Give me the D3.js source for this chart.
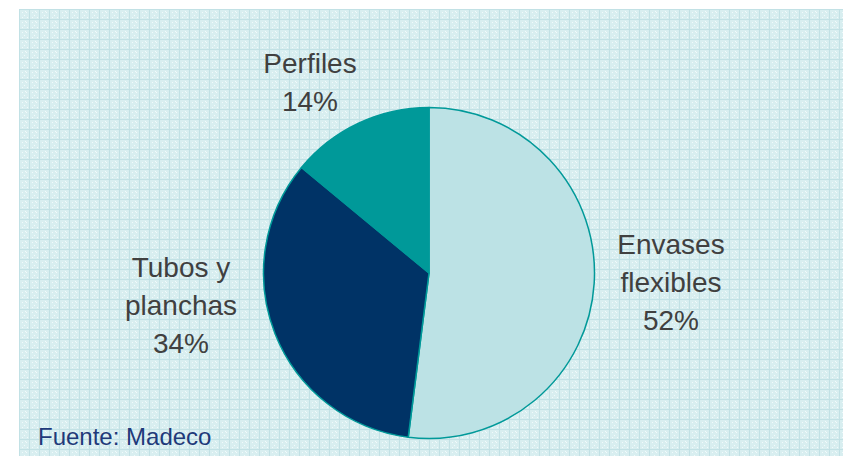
<!DOCTYPE html>
<html>
<head>
<meta charset="utf-8">
<script src="https://cdn.jsdelivr.net/npm/d3@7/dist/d3.min.js"></script>
<style>
  html, body { margin: 0; padding: 0; background: #ffffff; }
  svg { display: block; }
</style>
</head>
<body>
<svg id="chart" width="843" height="456"></svg>
<script>
// Market share by product line
const categories = ["Envases flexibles", "Tubos y planchas", "Perfiles"];
const shares = [52, 34, 14];
const labelLines = [["Envases", "flexibles", "52%"], ["Tubos y", "planchas", "34%"], ["Perfiles", "14%"]];
const colors = ["#bce2e5", "#003366", "#009999"];
const sourceNote = "Fuente: Madeco";

const svg = d3.select("#chart");
const W = 843, H = 456;

// Light grid-paper background
const defs = svg.append("defs");
const pat = defs.append("pattern")
  .attr("id", "gridpaper")
  .attr("patternUnits", "userSpaceOnUse")
  .attr("width", 10).attr("height", 10)
  .attr("x", 19).attr("y", 9);
pat.append("rect").attr("width", 10).attr("height", 10).attr("fill", "#d8eef0");
pat.append("rect").attr("x", 0).attr("y", 0).attr("width", 10).attr("height", 1).attr("fill", "#c2e1e5");
pat.append("rect").attr("x", 0).attr("y", 0).attr("width", 1).attr("height", 10).attr("fill", "#c2e1e5");
[[3, 3], [7, 3], [5, 6], [3, 8], [8, 8], [6, 2]].forEach(([x, y]) => {
  pat.append("rect").attr("x", x).attr("y", y).attr("width", 1).attr("height", 1)
    .attr("fill", "#f2fafb");
});

svg.append("rect")
  .attr("x", 19).attr("y", 9)
  .attr("width", W - 19).attr("height", H - 9)
  .attr("fill", "url(#gridpaper)");

// Pie
const cx = 429, cy = 273, r = 165.5;
const data = categories.map((c, i) => ({ name: c, value: shares[i], idx: i }));
const pie = d3.pie().sort(null).value(d => d.value);
const arc = d3.arc().innerRadius(0).outerRadius(r);
const color = d3.scaleOrdinal().domain(categories).range(colors);

const g = svg.append("g").attr("transform", `translate(${cx},${cy})`);
g.selectAll("path.slice")
  .data(pie(data))
  .join("path")
  .attr("class", "slice")
  .attr("d", arc)
  .attr("fill", d => color(d.data.name))
  .attr("stroke", "#009999")
  .attr("stroke-width", 1.5)
  .attr("stroke-linejoin", "round");

// Labels placed outside each slice
const labelPos = [
  { x: 671, y: 254 },
  { x: 181, y: 277 },
  { x: 310, y: 73 }
];
const lineH = 38;
labelLines.forEach((lines, i) => {
  const t = svg.append("text")
    .attr("x", labelPos[i].x)
    .attr("y", labelPos[i].y)
    .attr("text-anchor", "middle")
    .attr("font-family", "Liberation Sans, Arial, sans-serif")
    .attr("font-size", 28)
    .attr("fill", "#404040");
  lines.forEach((s, j) => {
    t.append("tspan")
      .attr("x", labelPos[i].x)
      .attr("y", labelPos[i].y + j * lineH)
      .text(s);
  });
});

// Source note
svg.append("text")
  .attr("x", 38).attr("y", 445)
  .attr("font-family", "Liberation Sans, Arial, sans-serif")
  .attr("font-size", 24)
  .attr("fill", "#1f3a7a")
  .text(sourceNote);
</script>
</body>
</html>
